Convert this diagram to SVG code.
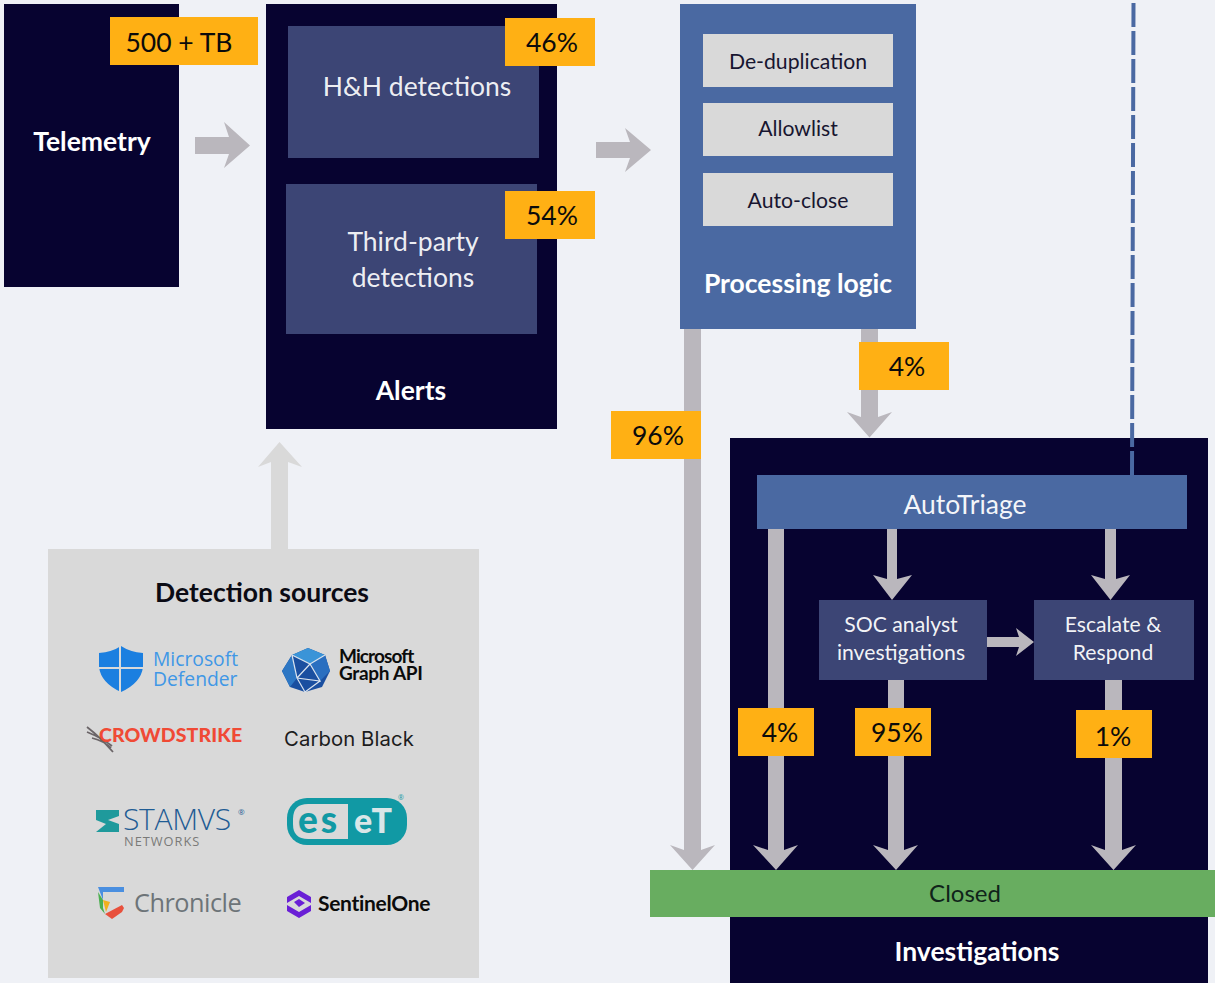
<svg xmlns="http://www.w3.org/2000/svg" width="1215" height="983" viewBox="0 0 1215 983">
<style>
text{font-family:Lato,"Liberation Sans",sans-serif;text-anchor:middle}
.navy{fill:#070330}.mid{fill:#3c4575}.blue{fill:#4a69a2}.lt{fill:#d9d9d9}.org{fill:#ffb014}
.arr{fill:#bab7bd}.arl{fill:#d9d9d9}
.w{fill:#fff}.b{font-weight:700}.k{fill:#0b0b0b}.t26{font-size:26.500px}.t22{font-size:21.200px}
.dark{fill:#171530}.l{text-anchor:start}
</style>
<rect width="1215" height="983" fill="#eff1f6"/>
<g id="investigations-frame"><rect class="navy" x="730" y="438" width="478" height="545"/><text class="w b t26" x="977" y="961">Investigations</text></g>
<g id="connectors">
<polygon class="arr" points="195,137 229,137 224,122 250,145.500 224,168 229,154 195,154"/>
<polygon class="arr" points="596,142 630,142 625,128 651,150 625,172 630,158 596,158"/>
<polygon class="arl" points="271,549 271,462 258,467 279.500,442 302,467 288,462 288,549"/>
<polygon class="arr" points="684,329 701,329 701,850 715,845 692.500,870 670,845 684,850"/>
<polygon class="arr" points="861,329 878,329 878,417 892,412 869.500,437.500 847,412 861,417"/>
<polygon class="arr" points="768,529 784,529 784,850 798,845 776,870 753,845 768,850"/>
<polygon class="arr" points="887,529 897,529 897,579 912,575 892,600 873,575 887,579"/>
<polygon class="arr" points="1105,529 1116,529 1116,579 1130,575 1110.500,600 1091,575 1105,579"/>
<polygon class="arr" points="888,680 904,680 904,850 918,845 896,870 873,845 888,850"/>
<polygon class="arr" points="1105,680 1122,680 1122,850 1136,845 1113.500,870 1091,845 1105,850"/>
<polygon class="arr" points="987,637 1019,637 1016,628 1034,642 1016,656 1019,647 987,647"/>
<line x1="1133.500" y1="3" x2="1132" y2="475" stroke="#4a69a2" stroke-width="4" stroke-dasharray="24 4"/>
</g>
<g id="telemetry"><rect class="navy" x="4" y="4" width="175" height="283"/><text class="w b t26" x="92" y="151">Telemetry</text></g>
<g id="badge-tb"><rect class="org" x="110" y="17" width="148" height="48"/><text class="k t26" x="179" y="52">500 + TB</text></g>
<g id="alerts"><rect class="navy" x="266" y="4" width="291" height="425"/><text class="w b t26" x="411" y="400">Alerts</text></g>
<g id="hh"><rect class="mid" x="288" y="26" width="251" height="132"/><text class="w t26" x="417" y="96" fill-opacity=".93">H&amp;H detections</text></g>
<g id="third"><rect class="mid" x="286" y="184" width="251" height="150"/><text class="w t26" x="413" y="251" fill-opacity=".93">Third-party</text><text class="w t26" x="413" y="287" fill-opacity=".93">detections</text></g>
<g id="badge-46"><rect class="org" x="505" y="18" width="90" height="48"/><text class="k t26" x="552" y="52">46%</text></g>
<g id="badge-54"><rect class="org" x="505" y="191" width="90" height="48"/><text class="k t26" x="552" y="225">54%</text></g>
<g id="processing"><rect class="blue" x="680" y="4" width="236" height="325"/><text class="w b t26" x="798" y="293">Processing logic</text></g>
<g id="dedup"><rect class="lt" x="703" y="34" width="190" height="53"/><text class="t22 dark" x="798" y="69">De-duplication</text></g>
<g id="allow"><rect class="lt" x="703" y="103" width="190" height="53"/><text class="t22 dark" x="798" y="136">Allowlist</text></g>
<g id="autoclose"><rect class="lt" x="703" y="173" width="190" height="53"/><text class="t22 dark" x="798" y="208">Auto-close</text></g>
<g id="badge-96"><rect class="org" x="611" y="411" width="90" height="48"/><text class="k t26" x="658" y="445">96%</text></g>
<g id="badge-4a"><rect class="org" x="859" y="342" width="90" height="48"/><text class="k t26" x="907" y="376">4%</text></g>
<g id="autotriage"><rect class="blue" x="757" y="475" width="430" height="54"/><text class="w t26" x="965" y="514" fill-opacity=".95">AutoTriage</text></g>
<g id="soc"><rect class="mid" x="819" y="600" width="168" height="80"/><text class="w t22" x="901" y="632" fill-opacity=".95">SOC analyst</text><text class="w t22" x="901" y="660" fill-opacity=".95">investigations</text></g>
<g id="escalate"><rect class="mid" x="1034" y="600" width="160" height="80"/><text class="w t22" x="1113" y="632" fill-opacity=".95">Escalate &amp;</text><text class="w t22" x="1113" y="660" fill-opacity=".95">Respond</text></g>
<g id="badge-4b"><rect class="org" x="738" y="708" width="76" height="48"/><text class="k t26" x="780" y="742">4%</text></g>
<g id="badge-95"><rect class="org" x="855" y="708" width="76" height="48"/><text class="k t26" x="897" y="742">95%</text></g>
<g id="badge-1"><rect class="org" x="1076" y="710" width="76" height="48"/><text class="k t26" x="1113" y="746">1%</text></g>
<g id="closed"><rect fill="#68ad60" x="650" y="870" width="565" height="47"/><text fill="#10231a" x="965" y="902" style="font-size:24px">Closed</text></g>
<g id="detection-sources">
<rect class="lt" x="48" y="549" width="431" height="429"/>
<text class="b t26" fill="#0b0b14" x="262" y="602">Detection sources</text>
<g id="logo-defender">
<path d="M99,653 Q112,652 121,646 Q130,652 143,653 L143,667 Q141,683 121,692 Q101,683 99,667Z" fill="#1b7fe0"/>
<path d="M120,645V693M98,668H144" stroke="#d9d9d9" stroke-width="2" fill="none"/>
<text class="l" x="153" y="666" fill="#3f97e6" style="font-size:19.300px;font-family:'Open Sans',sans-serif">Microsoft</text>
<text class="l" x="153" y="686" fill="#3f97e6" style="font-size:19.300px;font-family:'Open Sans',sans-serif">Defender</text>
</g>
<g id="logo-graph">
<polygon points="282,671 292,655 308,648 325,655 330,671 322,687 305,692 290,687" fill="#1a4fa0"/>
<polygon points="292,655 308,648 325,655 310,664" fill="#3a94d8"/>
<polygon points="282,671 292,655 297,678 290,687" fill="#2d77c4"/>
<polygon points="310,664 325,655 330,671 320,681" fill="#2a6fc0"/>
<path d="M292,655L310,664L320,681L297,678L292,655M310,664L297,678M320,681L305,692M325,655L310,664M297,678L305,692" stroke="#d9e3ee" stroke-width="1.200" fill="none"/>
<text class="l b" x="339" y="663" fill="#0b0b0b" style="font-size:19px;letter-spacing:-.9px">Microsoft</text>
<text class="l b" x="339" y="680" fill="#0b0b0b" style="font-size:19px;letter-spacing:-.3px">Graph API</text>
</g>
<g id="logo-crowdstrike">
<path d="M87,727Q100,737 113,752M87,732Q102,738 112,746M92,738Q104,741 111,748" stroke="#6b6568" stroke-width="1.800" fill="none"/>
<text class="l" x="99" y="742" fill="#f04a35" style="font-size:19.500px;font-weight:900;letter-spacing:.1px">CROWDSTRIKE</text>
</g>
<text id="logo-carbon" class="l" x="284" y="746" fill="#1c1c1c" style="font-size:20.300px;font-family:Inter,sans-serif;letter-spacing:.1px">Carbon Black</text>
<g id="logo-stamus">
<polygon points="96,810 119,810 119,816 108,820 119,824 119,832 96,832 106,824 96,820" fill="#1f9a9c"/>
<text class="l" x="123" y="830" fill="#1f5c94" style="font-size:30px;font-weight:300;font-family:'Open Sans',sans-serif;letter-spacing:-.3px">STAMVS</text>
<text class="l" x="238" y="815" fill="#1f5c94" style="font-size:8px;font-family:'Open Sans',sans-serif">®</text>
<text class="l" x="124" y="846" fill="#7a7a78" style="font-size:12.800px;font-family:'Open Sans',sans-serif;letter-spacing:1px">NETWORKS</text>
</g>
<g id="logo-eset">
<rect x="287" y="798" width="120" height="47" rx="20" fill="#1199a4"/>
<path d="M348,804H308Q293,804 293,819V824Q293,839 308,839H348Z" fill="#d9d9d9"/>
<text class="l" x="298" y="833" fill="#1199a4" style="font-size:37px;font-weight:900;letter-spacing:3px">es</text>
<text class="l" x="354" y="833" fill="#d9e6e8" style="font-size:34px;font-weight:900;letter-spacing:3px">eT</text>
<text class="l" x="398" y="800" fill="#1199a4" style="font-size:7px;font-family:'Open Sans',sans-serif">®</text>
</g>
<g id="logo-chronicle">
<path d="M98,887H124V892H103V900Z" fill="#4a8fe0"/>
<path d="M98,892L103,900V908L105,914L100,908Z" fill="#4caf50"/>
<path d="M103,900L110,902L106,912Z" fill="#f2b01e"/>
<path d="M105,914L122,905L124,908L122,912L112,919Z" fill="#e8503c"/>
<text class="l" x="134" y="912" fill="#6d7478" style="font-size:25.300px;font-family:'Open Sans',sans-serif;letter-spacing:-.5px">Chronicle</text>
</g>
<g id="logo-sentinel">
<path d="M299,890L311,897V903L299,896L287,903V897Z M287,905L299,912L311,905V911L299,918L287,911Z M294,902L299,899L305,903L299,907Z" fill="#6a1fd6"/>
<text class="l b" x="318" y="911" fill="#0b0b0b" style="font-size:21px;letter-spacing:-.3px">SentinelOne</text>
</g>
</g>
</svg>
